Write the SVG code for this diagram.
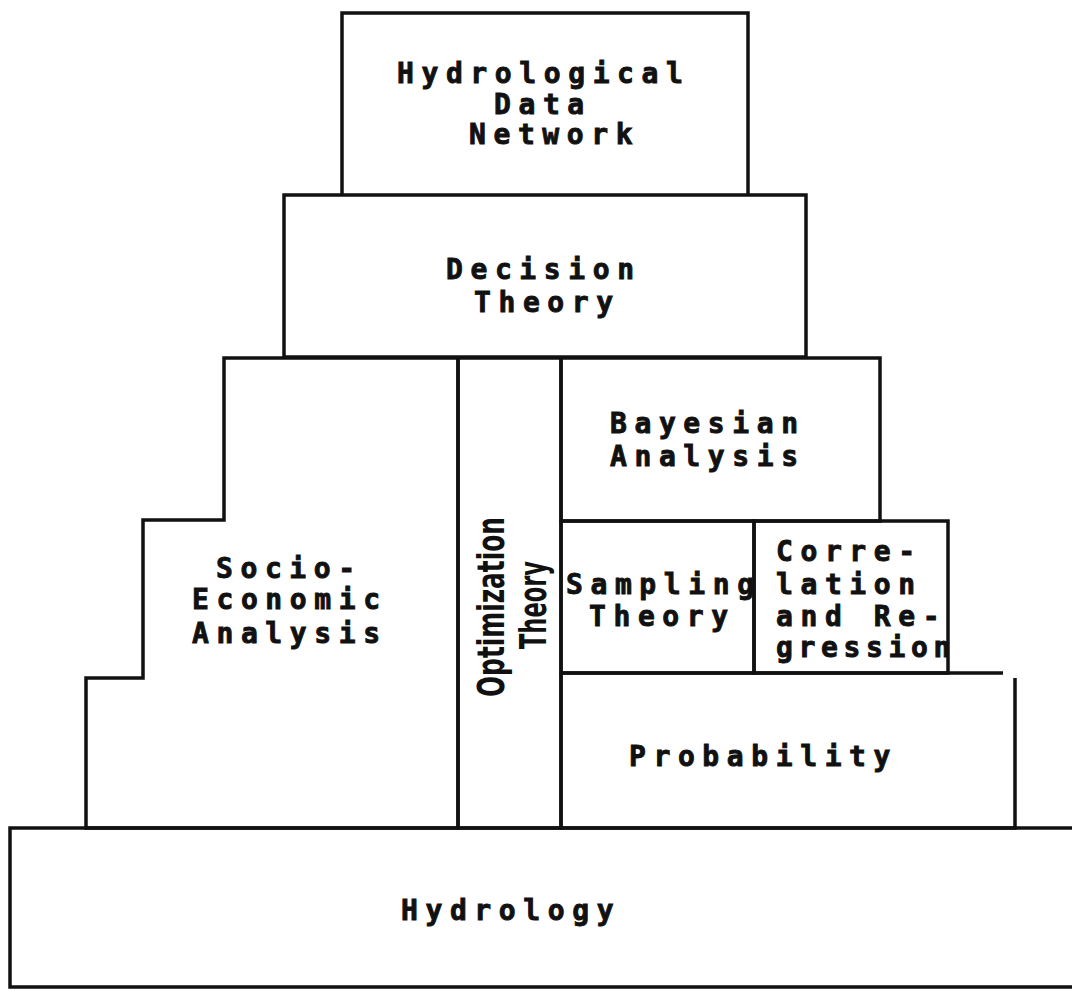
<svg xmlns="http://www.w3.org/2000/svg" width="1072" height="991" viewBox="0 0 1072 991">
  <style>
    .box { fill: none; stroke: #111; stroke-width: 3.5; stroke-linejoin: miter; }
    .lbl { font-family: "DejaVu Sans Mono", "Liberation Mono", monospace; font-weight: bold; font-size: 28px; letter-spacing: 7.6px; fill: #111; stroke: #111; stroke-width: 0.9px; }
    .vlbl { font-family: "DejaVu Sans", "Liberation Sans", sans-serif; font-weight: bold; font-size: 38px; fill: #111; }
  </style>
  <defs>
    <clipPath id="corrClip">
      <rect x="754" y="521" width="196" height="152"/>
    </clipPath>
  </defs>
  <rect x="0" y="0" width="1072" height="991" fill="#fff"/>

  <!-- base layer -->
  <g id="hydrology">
    <path class="box" d="M1072,828 H10 V987 H1072"/>
    <text class="lbl" x="401" y="920">Hydrology</text>
  </g>

  <!-- left stepped block -->
  <g id="socio-economic">
    <path class="box" d="M224,358 H458 V828 H86 V678 H143 V520 H224 Z"/>
    <text class="lbl" x="216" y="578">Socio-</text>
    <text class="lbl" x="192" y="609">Economic</text>
    <text class="lbl" x="192" y="643">Analysis</text>
  </g>

  <!-- vertical column -->
  <g id="optimization">
    <rect class="box" x="458" y="358" width="103" height="470"/>
    <text class="vlbl" transform="translate(504,607) rotate(-90)" text-anchor="middle" textLength="180" lengthAdjust="spacingAndGlyphs">Optimization</text>
    <text class="vlbl" transform="translate(546,605) rotate(-90)" text-anchor="middle" textLength="88" lengthAdjust="spacingAndGlyphs">Theory</text>
  </g>

  <g id="probability">
    <path class="box" d="M561,673 H1003 M1015,678 V828 H561 V673"/>
    <text class="lbl" x="629" y="766">Probability</text>
  </g>

  <g id="sampling">
    <rect class="box" x="561" y="521" width="193" height="152"/>
    <text class="lbl" x="566" y="594">Sampling</text>
    <text class="lbl" x="589" y="626">Theory</text>
  </g>

  <g id="correlation">
    <g clip-path="url(#corrClip)">
      <text class="lbl" x="776" y="561">Corre-</text>
      <text class="lbl" x="776" y="594">lation</text>
      <text class="lbl" x="776" y="626">and Re-</text>
      <text class="lbl" x="776" y="657" textLength="182" lengthAdjust="spacing">gression</text>
    </g>
    <rect class="box" x="754" y="521" width="194" height="152"/>
  </g>

  <g id="bayesian">
    <rect class="box" x="561" y="358" width="319" height="163"/>
    <text class="lbl" x="610" y="433">Bayesian</text>
    <text class="lbl" x="610" y="466">Analysis</text>
  </g>

  <g id="decision">
    <rect class="box" x="284" y="195" width="522" height="162"/>
    <text class="lbl" x="446" y="279">Decision</text>
    <text class="lbl" x="474" y="312">Theory</text>
  </g>

  <g id="data-network">
    <path class="box" d="M342,194 V13 H748 V194"/>
    <text class="lbl" x="397" y="83">Hydrological</text>
    <text class="lbl" x="494" y="114">Data</text>
    <text class="lbl" x="469" y="144">Network</text>
  </g>
</svg>
